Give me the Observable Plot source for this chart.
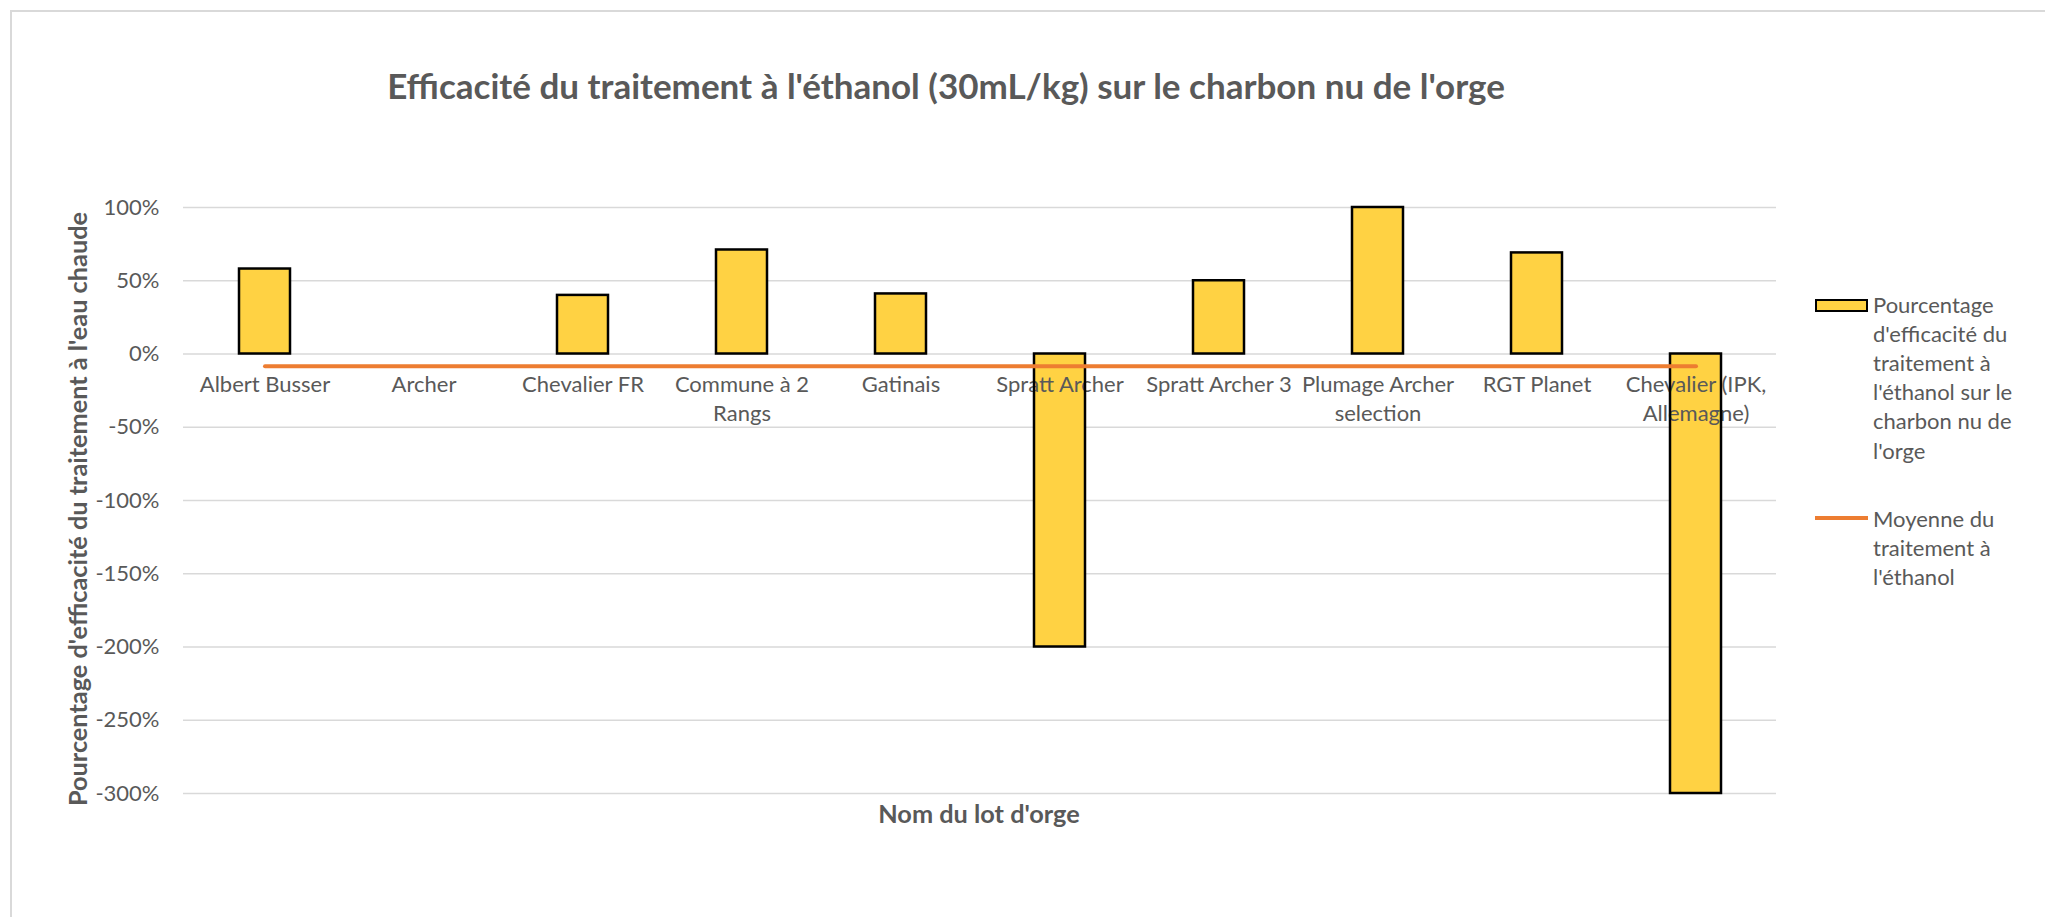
<!DOCTYPE html>
<html>
<head>
<meta charset="utf-8">
<script src="https://cdn.jsdelivr.net/npm/d3@7"></script>
<script src="https://cdn.jsdelivr.net/npm/@observablehq/plot@0.6"></script>
<style>
  html, body { margin: 0; padding: 0; background: #fff; }
  #wrap { position: relative; width: 2045px; height: 917px; overflow: hidden;
          font-family: Lato, "Open Sans", "Noto Sans", sans-serif; color: #595959; }
  #frame { position: absolute; left: 10px; top: 10px; width: 2200px; height: 1100px;
           border-left: 2px solid #d9d9d9; border-top: 2px solid #d9d9d9; pointer-events: none; }
  .abs { position: absolute; white-space: nowrap; }
  #title { left: 946px; top: 64px; transform: translateX(-50%); font-size: 35px; font-weight: 700; line-height: 42px; }
  #xtitle { left: 979px; top: 799px; transform: translateX(-50%); font-size: 25.3px; font-weight: 700; line-height: 29.2px; }
  #ytitle { left: 78px; top: 509px; transform: translate(-50%, -50%) rotate(-90deg); font-size: 25.3px; font-weight: 700; line-height: 29.2px; }
  .leg { font-size: 22px; line-height: 29.2px; }
  #sw1 { position: absolute; left: 1815px; top: 299px; width: 49px; height: 9px; background: #FFD243; border: 2px solid #000; }
  #sw2 { position: absolute; left: 1815px; top: 516px; width: 53px; height: 4px; background: #ED7D31; }
</style>
</head>
<body>
<div id="wrap">
  <div id="chart"></div>
  <div id="title" class="abs">Efficacité du traitement à l'éthanol (30mL/kg) sur le charbon nu de l'orge</div>
  <div id="xtitle" class="abs">Nom du lot d'orge</div>
  <div id="ytitle" class="abs">Pourcentage d'efficacité du traitement à l'eau chaude</div>
  <div id="sw1"></div>
  <div class="abs leg" style="left:1873px; top:289.6px;">Pourcentage<br>d'efficacité du<br>traitement à<br>l'éthanol sur le<br>charbon nu de<br>l'orge</div>
  <div id="sw2"></div>
  <div class="abs leg" style="left:1873px; top:503.6px;">Moyenne du<br>traitement à<br>l'éthanol</div>
  <div id="frame"></div>
</div>
<script>
// ---- Data ----
const categories = ["Albert Busser", "Archer", "Chevalier FR", "Commune à 2 Rangs", "Gatinais",
  "Spratt Archer", "Spratt Archer 3", "Plumage Archer selection", "RGT Planet", "Chevalier (IPK, Allemagne)"];
const tickLabels = ["Albert Busser", "Archer", "Chevalier FR", "Commune à 2\nRangs", "Gatinais",
  "Spratt Archer", "Spratt Archer 3", "Plumage Archer\nselection", "RGT Planet", "Chevalier (IPK,\nAllemagne)"];
const efficacite = [0.58, null, 0.40, 0.71, 0.41, -2.00, 0.50, 1.00, 0.69, -3.00];
const moyenne = [-0.083, -0.083, -0.083, -0.083, -0.083, -0.083, -0.083, -0.083, -0.083, -0.083];
const yTicks = [1, 0.5, 0, -0.5, -1, -1.5, -2, -2.5, -3];

const rows = categories.map((c, i) => ({name: c, label: tickLabels[i], value: efficacite[i], mean: moyenne[i], zero: 0}));
const barRows = rows.filter(d => d.value != null);

const gold = "#FFD243";
const orange = "#ED7D31";
const grey = "#595959";

const chart = Plot.plot({
  width: 2045,
  height: 917,
  marginLeft: 183,
  marginRight: 269,
  marginTop: 207,
  marginBottom: 124,
  style: {fontFamily: "Lato, 'Open Sans', sans-serif", background: "transparent", overflow: "visible"},
  x: {type: "band", domain: categories, paddingInner: 0.68, paddingOuter: 0.34, axis: null},
  y: {domain: [-3, 1], axis: null},
  marks: [
    Plot.gridY(yTicks, {stroke: "#d9d9d9", strokeOpacity: 1, strokeWidth: 1.6}),
    Plot.axisY(yTicks, {tickSize: 0, tickPadding: 24, fontSize: 22, fill: grey,
      tickFormat: d => Math.round(d * 100) + "%", label: null}),
    Plot.barY(barRows, {x: "name", y: "value", fill: gold}),
    Plot.text(rows, {x: "name", y: "zero", text: "label", dy: 17, lineAnchor: "top",
      lineHeight: 1.33, fontSize: 22, fill: grey}),
    Plot.barY(barRows, {x: "name", y: "value", fill: "none", stroke: "#000", strokeWidth: 2.5}),
    Plot.lineY(rows, {x: "name", y: "mean", stroke: orange, strokeWidth: 4})
  ]
});
document.getElementById("chart").appendChild(chart);
</script>
</body>
</html>
